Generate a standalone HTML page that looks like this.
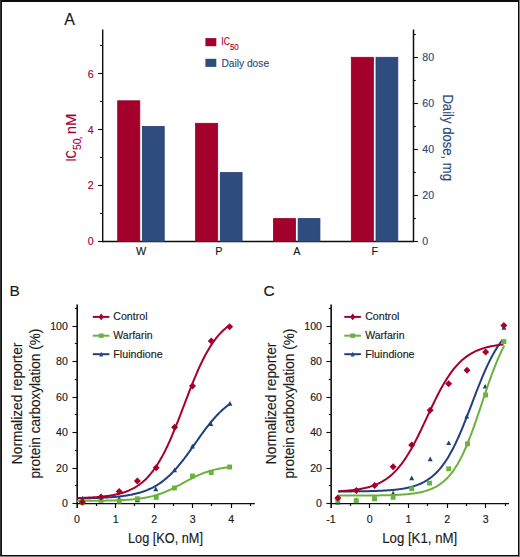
<!DOCTYPE html>
<html><head><meta charset="utf-8"><style>
html,body{margin:0;padding:0;background:#fff;}
body{width:520px;height:557px;overflow:hidden;}
svg{display:block;}
text{font-family:"Liberation Sans",sans-serif;stroke:currentColor;}
</style></head><body>
<svg width="520" height="557" viewBox="0 0 520 557">
<rect x="0" y="0" width="520" height="557" fill="#fff"/>
<rect x="519" y="0" width="1" height="557" fill="#808080"/>
<rect x="0" y="556" width="520" height="1" fill="#808080"/>
<rect x="0" y="0" width="519" height="2" fill="#0c0c0c"/>
<rect x="0" y="0" width="1" height="556" fill="#333"/>
<rect x="1" y="1" width="1" height="555" fill="#111"/>
<rect x="0" y="556" width="1" height="1" fill="#999"/>
<rect x="518" y="0" width="1" height="556" fill="#0c0c0c"/>
<rect x="0" y="555" width="519" height="1" fill="#0c0c0c"/>
<line x1="102.70" y1="29.50" x2="102.70" y2="242.15" stroke="#0d0d0d" stroke-width="1.4"/>
<line x1="413.50" y1="29.50" x2="413.50" y2="242.15" stroke="#0d0d0d" stroke-width="1.5"/>
<line x1="102.70" y1="241.50" x2="413.50" y2="241.50" stroke="#0d0d0d" stroke-width="1.3"/>
<line x1="98.10" y1="241.50" x2="102.70" y2="241.50" stroke="#0d0d0d" stroke-width="1.1"/>
<text x="93.70" y="245.30" font-size="10.6" fill="#a5002c" color="#a5002c" stroke-width="0.15" text-anchor="end">0</text>
<line x1="100.10" y1="213.50" x2="102.70" y2="213.50" stroke="#0d0d0d" stroke-width="1.1"/>
<line x1="98.10" y1="185.50" x2="102.70" y2="185.50" stroke="#0d0d0d" stroke-width="1.1"/>
<text x="93.70" y="189.44" font-size="10.6" fill="#a5002c" color="#a5002c" stroke-width="0.15" text-anchor="end">2</text>
<line x1="100.10" y1="157.50" x2="102.70" y2="157.50" stroke="#0d0d0d" stroke-width="1.1"/>
<line x1="98.10" y1="129.50" x2="102.70" y2="129.50" stroke="#0d0d0d" stroke-width="1.1"/>
<text x="93.70" y="133.58" font-size="10.6" fill="#a5002c" color="#a5002c" stroke-width="0.15" text-anchor="end">4</text>
<line x1="100.10" y1="101.50" x2="102.70" y2="101.50" stroke="#0d0d0d" stroke-width="1.1"/>
<line x1="98.10" y1="73.50" x2="102.70" y2="73.50" stroke="#0d0d0d" stroke-width="1.1"/>
<text x="93.70" y="77.72" font-size="10.6" fill="#a5002c" color="#a5002c" stroke-width="0.15" text-anchor="end">6</text>
<line x1="100.10" y1="45.50" x2="102.70" y2="45.50" stroke="#0d0d0d" stroke-width="1.1"/>
<line x1="413.50" y1="241.50" x2="417.90" y2="241.50" stroke="#0d0d0d" stroke-width="1.1"/>
<text x="422.30" y="245.30" font-size="10.6" fill="#2d4b7c" color="#2d4b7c" stroke-width="0.15">0</text>
<line x1="413.50" y1="218.50" x2="415.80" y2="218.50" stroke="#0d0d0d" stroke-width="1.1"/>
<line x1="413.50" y1="195.50" x2="417.90" y2="195.50" stroke="#0d0d0d" stroke-width="1.1"/>
<text x="422.30" y="199.30" font-size="10.6" fill="#2d4b7c" color="#2d4b7c" stroke-width="0.15">20</text>
<line x1="413.50" y1="172.50" x2="415.80" y2="172.50" stroke="#0d0d0d" stroke-width="1.1"/>
<line x1="413.50" y1="149.50" x2="417.90" y2="149.50" stroke="#0d0d0d" stroke-width="1.1"/>
<text x="422.30" y="153.30" font-size="10.6" fill="#2d4b7c" color="#2d4b7c" stroke-width="0.15">40</text>
<line x1="413.50" y1="126.50" x2="415.80" y2="126.50" stroke="#0d0d0d" stroke-width="1.1"/>
<line x1="413.50" y1="103.50" x2="417.90" y2="103.50" stroke="#0d0d0d" stroke-width="1.1"/>
<text x="422.30" y="107.30" font-size="10.6" fill="#2d4b7c" color="#2d4b7c" stroke-width="0.15">60</text>
<line x1="413.50" y1="80.50" x2="415.80" y2="80.50" stroke="#0d0d0d" stroke-width="1.1"/>
<line x1="413.50" y1="57.50" x2="417.90" y2="57.50" stroke="#0d0d0d" stroke-width="1.1"/>
<text x="422.30" y="61.30" font-size="10.6" fill="#2d4b7c" color="#2d4b7c" stroke-width="0.15">80</text>
<line x1="413.50" y1="34.50" x2="415.80" y2="34.50" stroke="#0d0d0d" stroke-width="1.1"/>
<rect x="117.70" y="100.80" width="22.1" height="140.70" fill="#a3002b" stroke="#980027" stroke-width="0.8"/>
<rect x="142.40" y="126.50" width="21.8" height="115.00" fill="#2e4c7d" stroke="#213e70" stroke-width="0.8"/>
<text x="141.10" y="255.40" font-size="10.8" fill="#1a1a1a" color="#1a1a1a" stroke-width="0.15" text-anchor="middle">W</text>
<rect x="195.57" y="123.30" width="22.1" height="118.20" fill="#a3002b" stroke="#980027" stroke-width="0.8"/>
<rect x="220.27" y="172.60" width="21.8" height="68.90" fill="#2e4c7d" stroke="#213e70" stroke-width="0.8"/>
<text x="218.97" y="255.40" font-size="10.8" fill="#1a1a1a" color="#1a1a1a" stroke-width="0.15" text-anchor="middle">P</text>
<rect x="273.44" y="218.60" width="22.1" height="22.90" fill="#a3002b" stroke="#980027" stroke-width="0.8"/>
<rect x="298.14" y="218.60" width="21.8" height="22.90" fill="#2e4c7d" stroke="#213e70" stroke-width="0.8"/>
<text x="296.84" y="255.40" font-size="10.8" fill="#1a1a1a" color="#1a1a1a" stroke-width="0.15" text-anchor="middle">A</text>
<rect x="351.31" y="57.30" width="22.1" height="184.20" fill="#a3002b" stroke="#980027" stroke-width="0.8"/>
<rect x="376.01" y="57.30" width="21.8" height="184.20" fill="#2e4c7d" stroke="#213e70" stroke-width="0.8"/>
<text x="374.71" y="255.40" font-size="10.8" fill="#1a1a1a" color="#1a1a1a" stroke-width="0.15" text-anchor="middle">F</text>
<rect x="205.4" y="38.1" width="10.9" height="8.1" fill="#a3002b"/>
<rect x="205.4" y="58.8" width="10.9" height="8.1" fill="#2e4c7d"/>
<text x="221.30" y="45.20" font-size="11.2" fill="#a5002c" color="#a5002c" stroke-width="0.15" textLength="8.6" lengthAdjust="spacingAndGlyphs">IC</text>
<text x="229.90" y="49.60" font-size="8.6" fill="#a5002c" color="#a5002c" stroke-width="0.15" textLength="8.9" lengthAdjust="spacingAndGlyphs">50</text>
<text x="221.40" y="66.50" font-size="11.2" fill="#2d4b7c" color="#2d4b7c" stroke-width="0.15" textLength="47.7" lengthAdjust="spacingAndGlyphs">Daily dose</text>
<text transform="translate(75.9,161.6) rotate(-90)" x="0" y="0" font-size="14.1" fill="#a5002c" color="#a5002c" stroke-width="0.15" textLength="11.4" lengthAdjust="spacingAndGlyphs">IC</text>
<text transform="translate(80.9,150.1) rotate(-90)" x="0" y="0" font-size="10.9" fill="#a5002c" color="#a5002c" stroke-width="0.15" textLength="11.6" lengthAdjust="spacingAndGlyphs">50</text>
<text transform="translate(80.9,139.6) rotate(-90)" x="0" y="0" font-size="10.9" fill="#a5002c" color="#a5002c" stroke-width="0.15">,</text>
<text transform="translate(75.9,134.2) rotate(-90)" x="0" y="0" font-size="14.1" fill="#a5002c" color="#a5002c" stroke-width="0.15" textLength="20.6" lengthAdjust="spacingAndGlyphs">nM</text>
<text transform="translate(443.1,94.4) rotate(90)" x="0" y="0" font-size="14.2" fill="#2d4b7c" color="#2d4b7c" stroke-width="0.15" textLength="86.6" lengthAdjust="spacingAndGlyphs">Daily dose, mg</text>
<text x="64.20" y="25.00" font-size="16" fill="#1a1a1a" color="#1a1a1a" stroke-width="0.15">A</text>
<line x1="77.20" y1="304.60" x2="77.20" y2="508.00" stroke="#0d0d0d" stroke-width="1.6"/>
<line x1="77.05" y1="503.60" x2="254.90" y2="503.60" stroke="#0d0d0d" stroke-width="1.2"/>
<line x1="72.45" y1="503.50" x2="77.05" y2="503.50" stroke="#0d0d0d" stroke-width="1.1"/>
<text x="67.90" y="507.40" font-size="10.6" fill="#1a1a1a" color="#1a1a1a" stroke-width="0.15" text-anchor="end">0</text>
<line x1="74.85" y1="485.50" x2="77.05" y2="485.50" stroke="#0d0d0d" stroke-width="1.1"/>
<line x1="72.45" y1="468.50" x2="77.05" y2="468.50" stroke="#0d0d0d" stroke-width="1.1"/>
<text x="67.90" y="471.90" font-size="10.6" fill="#1a1a1a" color="#1a1a1a" stroke-width="0.15" text-anchor="end">20</text>
<line x1="74.85" y1="450.50" x2="77.05" y2="450.50" stroke="#0d0d0d" stroke-width="1.1"/>
<line x1="72.45" y1="432.50" x2="77.05" y2="432.50" stroke="#0d0d0d" stroke-width="1.1"/>
<text x="67.90" y="436.40" font-size="10.6" fill="#1a1a1a" color="#1a1a1a" stroke-width="0.15" text-anchor="end">40</text>
<line x1="74.85" y1="414.50" x2="77.05" y2="414.50" stroke="#0d0d0d" stroke-width="1.1"/>
<line x1="72.45" y1="397.50" x2="77.05" y2="397.50" stroke="#0d0d0d" stroke-width="1.1"/>
<text x="67.90" y="400.90" font-size="10.6" fill="#1a1a1a" color="#1a1a1a" stroke-width="0.15" text-anchor="end">60</text>
<line x1="74.85" y1="379.50" x2="77.05" y2="379.50" stroke="#0d0d0d" stroke-width="1.1"/>
<line x1="72.45" y1="361.50" x2="77.05" y2="361.50" stroke="#0d0d0d" stroke-width="1.1"/>
<text x="67.90" y="365.40" font-size="10.6" fill="#1a1a1a" color="#1a1a1a" stroke-width="0.15" text-anchor="end">80</text>
<line x1="74.85" y1="343.50" x2="77.05" y2="343.50" stroke="#0d0d0d" stroke-width="1.1"/>
<line x1="72.45" y1="326.50" x2="77.05" y2="326.50" stroke="#0d0d0d" stroke-width="1.1"/>
<text x="67.90" y="329.90" font-size="10.6" fill="#1a1a1a" color="#1a1a1a" stroke-width="0.15" text-anchor="end">100</text>
<line x1="74.85" y1="308.50" x2="77.05" y2="308.50" stroke="#0d0d0d" stroke-width="1.1"/>
<line x1="96.50" y1="503.60" x2="96.50" y2="506.00" stroke="#0d0d0d" stroke-width="1.2"/>
<line x1="115.50" y1="503.60" x2="115.50" y2="508.00" stroke="#0d0d0d" stroke-width="1.2"/>
<line x1="134.50" y1="503.60" x2="134.50" y2="506.00" stroke="#0d0d0d" stroke-width="1.2"/>
<line x1="154.50" y1="503.60" x2="154.50" y2="508.00" stroke="#0d0d0d" stroke-width="1.2"/>
<line x1="173.50" y1="503.60" x2="173.50" y2="506.00" stroke="#0d0d0d" stroke-width="1.2"/>
<line x1="192.50" y1="503.60" x2="192.50" y2="508.00" stroke="#0d0d0d" stroke-width="1.2"/>
<line x1="211.50" y1="503.60" x2="211.50" y2="506.00" stroke="#0d0d0d" stroke-width="1.2"/>
<line x1="231.50" y1="503.60" x2="231.50" y2="508.00" stroke="#0d0d0d" stroke-width="1.2"/>
<line x1="250.50" y1="503.60" x2="250.50" y2="506.00" stroke="#0d0d0d" stroke-width="1.2"/>
<text x="77.05" y="522.90" font-size="10.6" fill="#1a1a1a" color="#1a1a1a" stroke-width="0.15" text-anchor="middle">0</text>
<text x="115.60" y="522.90" font-size="10.6" fill="#1a1a1a" color="#1a1a1a" stroke-width="0.15" text-anchor="middle">1</text>
<text x="154.15" y="522.90" font-size="10.6" fill="#1a1a1a" color="#1a1a1a" stroke-width="0.15" text-anchor="middle">2</text>
<text x="192.70" y="522.90" font-size="10.6" fill="#1a1a1a" color="#1a1a1a" stroke-width="0.15" text-anchor="middle">3</text>
<text x="231.25" y="522.90" font-size="10.6" fill="#1a1a1a" color="#1a1a1a" stroke-width="0.15" text-anchor="middle">4</text>
<path d="M77.05,498.38 L78.07,498.37 L79.09,498.35 L80.11,498.34 L81.14,498.32 L82.16,498.31 L83.18,498.29 L84.20,498.27 L85.22,498.25 L86.24,498.23 L87.26,498.21 L88.29,498.19 L89.31,498.16 L90.33,498.14 L91.35,498.11 L92.37,498.08 L93.39,498.05 L94.41,498.02 L95.44,497.99 L96.46,497.95 L97.48,497.92 L98.50,497.88 L99.52,497.84 L100.54,497.80 L101.56,497.75 L102.59,497.70 L103.61,497.66 L104.63,497.60 L105.65,497.55 L106.67,497.49 L107.69,497.43 L108.71,497.36 L109.74,497.30 L110.76,497.23 L111.78,497.15 L112.80,497.07 L113.82,496.99 L114.84,496.90 L115.86,496.81 L116.89,496.71 L117.91,496.61 L118.93,496.50 L119.95,496.39 L120.97,496.27 L121.99,496.15 L123.02,496.02 L124.04,495.88 L125.06,495.74 L126.08,495.58 L127.10,495.42 L128.12,495.26 L129.14,495.08 L130.17,494.89 L131.19,494.70 L132.21,494.49 L133.23,494.28 L134.25,494.05 L135.27,493.82 L136.29,493.57 L137.32,493.31 L138.34,493.04 L139.36,492.75 L140.38,492.45 L141.40,492.14 L142.42,491.81 L143.44,491.46 L144.47,491.10 L145.49,490.72 L146.51,490.33 L147.53,489.91 L148.55,489.48 L149.57,489.03 L150.59,488.56 L151.62,488.06 L152.64,487.55 L153.66,487.01 L154.68,486.46 L155.70,485.87 L156.72,485.27 L157.74,484.64 L158.77,483.98 L159.79,483.30 L160.81,482.59 L161.83,481.85 L162.85,481.09 L163.87,480.30 L164.89,479.48 L165.92,478.63 L166.94,477.76 L167.96,476.85 L168.98,475.91 L170.00,474.95 L171.02,473.95 L172.04,472.93 L173.07,471.88 L174.09,470.80 L175.11,469.69 L176.13,468.55 L177.15,467.38 L178.17,466.19 L179.19,464.97 L180.22,463.72 L181.24,462.45 L182.26,461.16 L183.28,459.84 L184.30,458.51 L185.32,457.15 L186.34,455.78 L187.37,454.39 L188.39,452.99 L189.41,451.57 L190.43,450.14 L191.45,448.71 L192.47,447.26 L193.49,445.81 L194.52,444.36 L195.54,442.91 L196.56,441.45 L197.58,440.00 L198.60,438.55 L199.62,437.11 L200.64,435.68 L201.67,434.26 L202.69,432.85 L203.71,431.46 L204.73,430.08 L205.75,428.72 L206.77,427.38 L207.80,426.05 L208.82,424.75 L209.84,423.48 L210.86,422.22 L211.88,420.99 L212.90,419.79 L213.92,418.61 L214.95,417.47 L215.97,416.35 L216.99,415.25 L218.01,414.19 L219.03,413.16 L220.05,412.15 L221.07,411.18 L222.10,410.23 L223.12,409.31 L224.14,408.43 L225.16,407.57 L226.18,406.74 L227.20,405.94 L228.22,405.17 L229.25,404.42" fill="none" stroke="#1f3f7f" stroke-width="2" stroke-linejoin="round"/>
<path d="M77.05,498.01 L78.07,497.98 L79.09,497.95 L80.11,497.92 L81.14,497.89 L82.16,497.86 L83.18,497.82 L84.20,497.79 L85.22,497.75 L86.24,497.70 L87.26,497.66 L88.29,497.61 L89.31,497.56 L90.33,497.51 L91.35,497.46 L92.37,497.40 L93.39,497.34 L94.41,497.27 L95.44,497.20 L96.46,497.13 L97.48,497.05 L98.50,496.97 L99.52,496.88 L100.54,496.79 L101.56,496.69 L102.59,496.59 L103.61,496.48 L104.63,496.36 L105.65,496.24 L106.67,496.11 L107.69,495.97 L108.71,495.83 L109.74,495.67 L110.76,495.51 L111.78,495.34 L112.80,495.16 L113.82,494.96 L114.84,494.76 L115.86,494.55 L116.89,494.32 L117.91,494.08 L118.93,493.83 L119.95,493.56 L120.97,493.28 L121.99,492.98 L123.02,492.67 L124.04,492.34 L125.06,491.99 L126.08,491.62 L127.10,491.23 L128.12,490.82 L129.14,490.39 L130.17,489.93 L131.19,489.45 L132.21,488.94 L133.23,488.41 L134.25,487.85 L135.27,487.26 L136.29,486.63 L137.32,485.98 L138.34,485.29 L139.36,484.57 L140.38,483.81 L141.40,483.02 L142.42,482.18 L143.44,481.30 L144.47,480.39 L145.49,479.42 L146.51,478.42 L147.53,477.36 L148.55,476.26 L149.57,475.11 L150.59,473.91 L151.62,472.66 L152.64,471.35 L153.66,469.99 L154.68,468.57 L155.70,467.10 L156.72,465.56 L157.74,463.98 L158.77,462.33 L159.79,460.62 L160.81,458.85 L161.83,457.03 L162.85,455.14 L163.87,453.20 L164.89,451.19 L165.92,449.13 L166.94,447.01 L167.96,444.84 L168.98,442.61 L170.00,440.33 L171.02,438.01 L172.04,435.63 L173.07,433.21 L174.09,430.74 L175.11,428.24 L176.13,425.70 L177.15,423.13 L178.17,420.53 L179.19,417.90 L180.22,415.26 L181.24,412.60 L182.26,409.92 L183.28,407.24 L184.30,404.55 L185.32,401.87 L186.34,399.19 L187.37,396.52 L188.39,393.86 L189.41,391.23 L190.43,388.61 L191.45,386.03 L192.47,383.47 L193.49,380.95 L194.52,378.46 L195.54,376.02 L196.56,373.61 L197.58,371.26 L198.60,368.95 L199.62,366.70 L200.64,364.50 L201.67,362.35 L202.69,360.26 L203.71,358.22 L204.73,356.25 L205.75,354.33 L206.77,352.47 L207.80,350.67 L208.82,348.93 L209.84,347.25 L210.86,345.63 L211.88,344.07 L212.90,342.57 L213.92,341.12 L214.95,339.73 L215.97,338.39 L216.99,337.11 L218.01,335.88 L219.03,334.70 L220.05,333.57 L221.07,332.49 L222.10,331.46 L223.12,330.48 L224.14,329.53 L225.16,328.64 L226.18,327.78 L227.20,326.96 L228.22,326.18 L229.25,325.44" fill="none" stroke="#a5002c" stroke-width="2" stroke-linejoin="round"/>
<path d="M82.40,496.08 L84.90,500.78 L79.90,500.78Z" fill="#213f7a"/>
<path d="M101.00,495.68 L103.50,500.38 L98.50,500.38Z" fill="#213f7a"/>
<path d="M119.20,495.98 L121.70,500.68 L116.70,500.68Z" fill="#213f7a"/>
<path d="M137.40,497.48 L139.90,502.18 L134.90,502.18Z" fill="#213f7a"/>
<path d="M155.80,486.58 L158.30,491.28 L153.30,491.28Z" fill="#213f7a"/>
<path d="M174.60,467.58 L177.10,472.28 L172.10,472.28Z" fill="#213f7a"/>
<path d="M192.40,443.68 L194.90,448.38 L189.90,448.38Z" fill="#213f7a"/>
<path d="M210.80,421.18 L213.30,425.88 L208.30,425.88Z" fill="#213f7a"/>
<path d="M229.90,400.98 L232.40,405.68 L227.40,405.68Z" fill="#213f7a"/>
<path d="M77.05,500.88 L78.07,500.88 L79.09,500.88 L80.11,500.87 L81.14,500.87 L82.16,500.86 L83.18,500.86 L84.20,500.85 L85.22,500.85 L86.24,500.84 L87.26,500.84 L88.29,500.83 L89.31,500.82 L90.33,500.82 L91.35,500.81 L92.37,500.80 L93.39,500.79 L94.41,500.78 L95.44,500.77 L96.46,500.76 L97.48,500.75 L98.50,500.74 L99.52,500.72 L100.54,500.71 L101.56,500.70 L102.59,500.68 L103.61,500.66 L104.63,500.65 L105.65,500.63 L106.67,500.61 L107.69,500.59 L108.71,500.56 L109.74,500.54 L110.76,500.51 L111.78,500.49 L112.80,500.46 L113.82,500.43 L114.84,500.40 L115.86,500.36 L116.89,500.32 L117.91,500.29 L118.93,500.24 L119.95,500.20 L120.97,500.15 L121.99,500.10 L123.02,500.05 L124.04,500.00 L125.06,499.94 L126.08,499.87 L127.10,499.81 L128.12,499.74 L129.14,499.66 L130.17,499.58 L131.19,499.50 L132.21,499.41 L133.23,499.32 L134.25,499.22 L135.27,499.11 L136.29,499.00 L137.32,498.88 L138.34,498.76 L139.36,498.63 L140.38,498.49 L141.40,498.34 L142.42,498.18 L143.44,498.02 L144.47,497.85 L145.49,497.67 L146.51,497.48 L147.53,497.28 L148.55,497.07 L149.57,496.84 L150.59,496.61 L151.62,496.37 L152.64,496.11 L153.66,495.85 L154.68,495.57 L155.70,495.27 L156.72,494.97 L157.74,494.65 L158.77,494.32 L159.79,493.98 L160.81,493.62 L161.83,493.25 L162.85,492.86 L163.87,492.47 L164.89,492.06 L165.92,491.63 L166.94,491.19 L167.96,490.74 L168.98,490.28 L170.00,489.81 L171.02,489.32 L172.04,488.83 L173.07,488.32 L174.09,487.80 L175.11,487.28 L176.13,486.75 L177.15,486.21 L178.17,485.67 L179.19,485.12 L180.22,484.56 L181.24,484.01 L182.26,483.45 L183.28,482.89 L184.30,482.33 L185.32,481.77 L186.34,481.22 L187.37,480.67 L188.39,480.12 L189.41,479.58 L190.43,479.04 L191.45,478.52 L192.47,478.00 L193.49,477.49 L194.52,476.99 L195.54,476.50 L196.56,476.02 L197.58,475.56 L198.60,475.10 L199.62,474.66 L200.64,474.23 L201.67,473.82 L202.69,473.41 L203.71,473.02 L204.73,472.65 L205.75,472.29 L206.77,471.94 L207.80,471.60 L208.82,471.28 L209.84,470.97 L210.86,470.67 L211.88,470.39 L212.90,470.12 L213.92,469.86 L214.95,469.61 L215.97,469.38 L216.99,469.15 L218.01,468.94 L219.03,468.73 L220.05,468.54 L221.07,468.35 L222.10,468.18 L223.12,468.01 L224.14,467.85 L225.16,467.70 L226.18,467.56 L227.20,467.43 L228.22,467.30 L229.25,467.18" fill="none" stroke="#6ab23e" stroke-width="2" stroke-linejoin="round"/>
<rect x="79.95" y="500.15" width="4.90" height="4.90" fill="#6ab23e"/>
<rect x="98.55" y="497.95" width="4.90" height="4.90" fill="#6ab23e"/>
<rect x="116.85" y="498.65" width="4.90" height="4.90" fill="#6ab23e"/>
<rect x="134.95" y="496.35" width="4.90" height="4.90" fill="#6ab23e"/>
<rect x="153.75" y="494.95" width="4.90" height="4.90" fill="#6ab23e"/>
<rect x="171.95" y="485.55" width="4.90" height="4.90" fill="#6ab23e"/>
<rect x="190.05" y="473.55" width="4.90" height="4.90" fill="#6ab23e"/>
<rect x="208.75" y="470.15" width="4.90" height="4.90" fill="#6ab23e"/>
<rect x="227.15" y="464.55" width="4.90" height="4.90" fill="#6ab23e"/>
<path d="M82.40,498.70 L85.90,502.20 L82.40,505.70 L78.90,502.20Z" fill="#a5002c"/>
<path d="M101.00,493.60 L104.50,497.10 L101.00,500.60 L97.50,497.10Z" fill="#a5002c"/>
<path d="M119.20,488.10 L122.70,491.60 L119.20,495.10 L115.70,491.60Z" fill="#a5002c"/>
<path d="M137.40,477.40 L140.90,480.90 L137.40,484.40 L133.90,480.90Z" fill="#a5002c"/>
<path d="M156.20,464.30 L159.70,467.80 L156.20,471.30 L152.70,467.80Z" fill="#a5002c"/>
<path d="M174.60,423.70 L178.10,427.20 L174.60,430.70 L171.10,427.20Z" fill="#a5002c"/>
<path d="M192.50,382.60 L196.00,386.10 L192.50,389.60 L189.00,386.10Z" fill="#a5002c"/>
<path d="M211.30,337.50 L214.80,341.00 L211.30,344.50 L207.80,341.00Z" fill="#a5002c"/>
<path d="M229.60,323.30 L233.10,326.80 L229.60,330.30 L226.10,326.80Z" fill="#a5002c"/>
<line x1="92.80" y1="316.90" x2="109.40" y2="316.90" stroke="#a5002c" stroke-width="2"/>
<path d="M101.20,313.60 L103.90,316.90 L101.20,320.20 L98.50,316.90Z" fill="#a5002c"/>
<text x="113.30" y="320.40" font-size="10.7" fill="#1a1a1a" color="#1a1a1a" stroke-width="0.15" textLength="34.2" lengthAdjust="spacingAndGlyphs">Control</text>
<line x1="92.80" y1="335.70" x2="109.40" y2="335.70" stroke="#6ab23e" stroke-width="2"/>
<rect x="98.80" y="333.50" width="4.8" height="4.4" fill="#6ab23e"/>
<text x="113.30" y="339.20" font-size="10.7" fill="#1a1a1a" color="#1a1a1a" stroke-width="0.15" textLength="39.3" lengthAdjust="spacingAndGlyphs">Warfarin</text>
<line x1="92.80" y1="354.20" x2="109.40" y2="354.20" stroke="#1f3f7f" stroke-width="2"/>
<path d="M101.20,351.40 L103.20,356.60 L99.20,356.60Z" fill="#2d4b7c"/>
<text x="113.30" y="357.70" font-size="10.7" fill="#1a1a1a" color="#1a1a1a" stroke-width="0.15" textLength="49.4" lengthAdjust="spacingAndGlyphs">Fluindione</text>
<text x="9.60" y="296.00" font-size="15.4" fill="#1a1a1a" color="#1a1a1a" stroke-width="0.15">B</text>
<text x="128.00" y="542.50" font-size="14" fill="#1a1a1a" color="#1a1a1a" stroke-width="0.15" textLength="75.0" lengthAdjust="spacingAndGlyphs">Log [KO, nM]</text>
<text transform="translate(22.4,464.2) rotate(-90)" x="0" y="0" font-size="13.8" fill="#1a1a1a" color="#1a1a1a" stroke-width="0.15" textLength="121.6" lengthAdjust="spacingAndGlyphs">Normalized reporter</text>
<text transform="translate(40.0,478.5) rotate(-90)" x="0" y="0" font-size="13.8" fill="#1a1a1a" color="#1a1a1a" stroke-width="0.15" textLength="149.7" lengthAdjust="spacingAndGlyphs">protein carboxylation (%)</text>
<line x1="331.15" y1="304.60" x2="331.15" y2="508.00" stroke="#0d0d0d" stroke-width="1.6"/>
<line x1="331.00" y1="503.60" x2="509.00" y2="503.60" stroke="#0d0d0d" stroke-width="1.2"/>
<line x1="326.40" y1="503.50" x2="331.00" y2="503.50" stroke="#0d0d0d" stroke-width="1.1"/>
<text x="322.00" y="507.40" font-size="10.6" fill="#1a1a1a" color="#1a1a1a" stroke-width="0.15" text-anchor="end">0</text>
<line x1="328.80" y1="485.50" x2="331.00" y2="485.50" stroke="#0d0d0d" stroke-width="1.1"/>
<line x1="326.40" y1="468.50" x2="331.00" y2="468.50" stroke="#0d0d0d" stroke-width="1.1"/>
<text x="322.00" y="471.90" font-size="10.6" fill="#1a1a1a" color="#1a1a1a" stroke-width="0.15" text-anchor="end">20</text>
<line x1="328.80" y1="450.50" x2="331.00" y2="450.50" stroke="#0d0d0d" stroke-width="1.1"/>
<line x1="326.40" y1="432.50" x2="331.00" y2="432.50" stroke="#0d0d0d" stroke-width="1.1"/>
<text x="322.00" y="436.40" font-size="10.6" fill="#1a1a1a" color="#1a1a1a" stroke-width="0.15" text-anchor="end">40</text>
<line x1="328.80" y1="414.50" x2="331.00" y2="414.50" stroke="#0d0d0d" stroke-width="1.1"/>
<line x1="326.40" y1="397.50" x2="331.00" y2="397.50" stroke="#0d0d0d" stroke-width="1.1"/>
<text x="322.00" y="400.90" font-size="10.6" fill="#1a1a1a" color="#1a1a1a" stroke-width="0.15" text-anchor="end">60</text>
<line x1="328.80" y1="379.50" x2="331.00" y2="379.50" stroke="#0d0d0d" stroke-width="1.1"/>
<line x1="326.40" y1="361.50" x2="331.00" y2="361.50" stroke="#0d0d0d" stroke-width="1.1"/>
<text x="322.00" y="365.40" font-size="10.6" fill="#1a1a1a" color="#1a1a1a" stroke-width="0.15" text-anchor="end">80</text>
<line x1="328.80" y1="343.50" x2="331.00" y2="343.50" stroke="#0d0d0d" stroke-width="1.1"/>
<line x1="326.40" y1="326.50" x2="331.00" y2="326.50" stroke="#0d0d0d" stroke-width="1.1"/>
<text x="322.00" y="329.90" font-size="10.6" fill="#1a1a1a" color="#1a1a1a" stroke-width="0.15" text-anchor="end">100</text>
<line x1="328.80" y1="308.50" x2="331.00" y2="308.50" stroke="#0d0d0d" stroke-width="1.1"/>
<line x1="350.50" y1="503.60" x2="350.50" y2="506.00" stroke="#0d0d0d" stroke-width="1.2"/>
<line x1="369.50" y1="503.60" x2="369.50" y2="508.00" stroke="#0d0d0d" stroke-width="1.2"/>
<line x1="389.50" y1="503.60" x2="389.50" y2="506.00" stroke="#0d0d0d" stroke-width="1.2"/>
<line x1="408.50" y1="503.60" x2="408.50" y2="508.00" stroke="#0d0d0d" stroke-width="1.2"/>
<line x1="427.50" y1="503.60" x2="427.50" y2="506.00" stroke="#0d0d0d" stroke-width="1.2"/>
<line x1="447.50" y1="503.60" x2="447.50" y2="508.00" stroke="#0d0d0d" stroke-width="1.2"/>
<line x1="466.50" y1="503.60" x2="466.50" y2="506.00" stroke="#0d0d0d" stroke-width="1.2"/>
<line x1="485.50" y1="503.60" x2="485.50" y2="508.00" stroke="#0d0d0d" stroke-width="1.2"/>
<line x1="505.50" y1="503.60" x2="505.50" y2="506.00" stroke="#0d0d0d" stroke-width="1.2"/>
<text x="331.00" y="522.90" font-size="10.6" fill="#1a1a1a" color="#1a1a1a" stroke-width="0.15" text-anchor="middle">-1</text>
<text x="369.70" y="522.90" font-size="10.6" fill="#1a1a1a" color="#1a1a1a" stroke-width="0.15" text-anchor="middle">0</text>
<text x="408.40" y="522.90" font-size="10.6" fill="#1a1a1a" color="#1a1a1a" stroke-width="0.15" text-anchor="middle">1</text>
<text x="447.10" y="522.90" font-size="10.6" fill="#1a1a1a" color="#1a1a1a" stroke-width="0.15" text-anchor="middle">2</text>
<text x="485.80" y="522.90" font-size="10.6" fill="#1a1a1a" color="#1a1a1a" stroke-width="0.15" text-anchor="middle">3</text>
<path d="M338.20,491.45 L339.30,491.44 L340.40,491.44 L341.51,491.44 L342.61,491.43 L343.71,491.43 L344.82,491.42 L345.92,491.41 L347.02,491.41 L348.12,491.40 L349.23,491.39 L350.33,491.38 L351.43,491.38 L352.53,491.37 L353.64,491.36 L354.74,491.35 L355.84,491.34 L356.95,491.32 L358.05,491.31 L359.15,491.30 L360.25,491.28 L361.36,491.27 L362.46,491.25 L363.56,491.23 L364.67,491.22 L365.77,491.20 L366.87,491.18 L367.97,491.15 L369.08,491.13 L370.18,491.10 L371.28,491.07 L372.39,491.05 L373.49,491.01 L374.59,490.98 L375.69,490.94 L376.80,490.91 L377.90,490.87 L379.00,490.82 L380.11,490.77 L381.21,490.73 L382.31,490.67 L383.41,490.62 L384.52,490.56 L385.62,490.49 L386.72,490.42 L387.83,490.35 L388.93,490.27 L390.03,490.19 L391.13,490.10 L392.24,490.00 L393.34,489.90 L394.44,489.79 L395.54,489.68 L396.65,489.55 L397.75,489.42 L398.85,489.28 L399.96,489.13 L401.06,488.97 L402.16,488.81 L403.26,488.62 L404.37,488.43 L405.47,488.23 L406.57,488.01 L407.68,487.78 L408.78,487.53 L409.88,487.26 L410.98,486.98 L412.09,486.68 L413.19,486.36 L414.29,486.03 L415.40,485.67 L416.50,485.28 L417.60,484.88 L418.70,484.44 L419.81,483.98 L420.91,483.50 L422.01,482.98 L423.12,482.43 L424.22,481.85 L425.32,481.23 L426.42,480.57 L427.53,479.88 L428.63,479.14 L429.73,478.37 L430.84,477.54 L431.94,476.67 L433.04,475.76 L434.14,474.79 L435.25,473.77 L436.35,472.69 L437.45,471.56 L438.55,470.36 L439.66,469.11 L440.76,467.79 L441.86,466.41 L442.97,464.96 L444.07,463.45 L445.17,461.86 L446.27,460.20 L447.38,458.48 L448.48,456.68 L449.58,454.80 L450.69,452.85 L451.79,450.83 L452.89,448.74 L453.99,446.58 L455.10,444.34 L456.20,442.04 L457.30,439.66 L458.41,437.23 L459.51,434.73 L460.61,432.17 L461.71,429.55 L462.82,426.89 L463.92,424.17 L465.02,421.42 L466.13,418.62 L467.23,415.80 L468.33,412.95 L469.43,410.08 L470.54,407.19 L471.64,404.30 L472.74,401.40 L473.85,398.51 L474.95,395.62 L476.05,392.76 L477.15,389.92 L478.26,387.10 L479.36,384.32 L480.46,381.58 L481.56,378.88 L482.67,376.23 L483.77,373.64 L484.87,371.10 L485.98,368.62 L487.08,366.20 L488.18,363.85 L489.28,361.57 L490.39,359.36 L491.49,357.22 L492.59,355.15 L493.70,353.16 L494.80,351.24 L495.90,349.39 L497.00,347.61 L498.11,345.91 L499.21,344.28 L500.31,342.72 L501.42,341.23 L502.52,339.80" fill="none" stroke="#1f3f7f" stroke-width="2" stroke-linejoin="round"/>
<path d="M338.20,491.28 L339.31,491.22 L340.42,491.16 L341.53,491.09 L342.64,491.02 L343.74,490.94 L344.85,490.86 L345.96,490.77 L347.07,490.68 L348.18,490.58 L349.29,490.48 L350.40,490.36 L351.51,490.25 L352.62,490.12 L353.73,489.99 L354.84,489.84 L355.95,489.69 L357.06,489.53 L358.17,489.36 L359.28,489.18 L360.38,488.98 L361.49,488.78 L362.60,488.56 L363.71,488.32 L364.82,488.08 L365.93,487.81 L367.04,487.53 L368.15,487.24 L369.26,486.92 L370.37,486.59 L371.48,486.24 L372.59,485.86 L373.70,485.46 L374.81,485.04 L375.91,484.60 L377.02,484.12 L378.13,483.62 L379.24,483.09 L380.35,482.53 L381.46,481.94 L382.57,481.32 L383.68,480.66 L384.79,479.96 L385.90,479.22 L387.01,478.45 L388.12,477.63 L389.23,476.77 L390.34,475.87 L391.45,474.92 L392.55,473.92 L393.66,472.88 L394.77,471.78 L395.88,470.63 L396.99,469.43 L398.10,468.17 L399.21,466.86 L400.32,465.49 L401.43,464.07 L402.54,462.58 L403.65,461.04 L404.76,459.44 L405.87,457.78 L406.98,456.06 L408.08,454.29 L409.19,452.46 L410.30,450.57 L411.41,448.63 L412.52,446.64 L413.63,444.60 L414.74,442.51 L415.85,440.37 L416.96,438.19 L418.07,435.98 L419.18,433.72 L420.29,431.44 L421.40,429.13 L422.51,426.80 L423.62,424.44 L424.72,422.08 L425.83,419.70 L426.94,417.32 L428.05,414.94 L429.16,412.56 L430.27,410.20 L431.38,407.85 L432.49,405.51 L433.60,403.21 L434.71,400.93 L435.82,398.68 L436.93,396.46 L438.04,394.29 L439.15,392.16 L440.26,390.07 L441.36,388.03 L442.47,386.05 L443.58,384.11 L444.69,382.23 L445.80,380.40 L446.91,378.64 L448.02,376.92 L449.13,375.27 L450.24,373.68 L451.35,372.14 L452.46,370.66 L453.57,369.24 L454.68,367.88 L455.79,366.57 L456.89,365.32 L458.00,364.12 L459.11,362.98 L460.22,361.89 L461.33,360.84 L462.44,359.85 L463.55,358.91 L464.66,358.01 L465.77,357.15 L466.88,356.34 L467.99,355.57 L469.10,354.84 L470.21,354.15 L471.32,353.49 L472.43,352.87 L473.53,352.28 L474.64,351.72 L475.75,351.19 L476.86,350.70 L477.97,350.23 L479.08,349.78 L480.19,349.36 L481.30,348.97 L482.41,348.59 L483.52,348.24 L484.63,347.91 L485.74,347.60 L486.85,347.30 L487.96,347.03 L489.06,346.77 L490.17,346.52 L491.28,346.29 L492.39,346.07 L493.50,345.86 L494.61,345.67 L495.72,345.49 L496.83,345.32 L497.94,345.16 L499.05,345.01 L500.16,344.87 L501.27,344.73 L502.38,344.61 L503.49,344.49" fill="none" stroke="#a5002c" stroke-width="2" stroke-linejoin="round"/>
<path d="M337.80,499.78 L340.30,504.48 L335.30,504.48Z" fill="#213f7a"/>
<path d="M356.20,497.38 L358.70,502.08 L353.70,502.08Z" fill="#213f7a"/>
<path d="M374.50,495.48 L377.00,500.18 L372.00,500.18Z" fill="#213f7a"/>
<path d="M393.10,490.78 L395.60,495.48 L390.60,495.48Z" fill="#213f7a"/>
<path d="M411.70,475.48 L414.20,480.18 L409.20,480.18Z" fill="#213f7a"/>
<path d="M430.20,456.58 L432.70,461.28 L427.70,461.28Z" fill="#213f7a"/>
<path d="M448.70,440.38 L451.20,445.08 L446.20,445.08Z" fill="#213f7a"/>
<path d="M466.80,413.88 L469.30,418.58 L464.30,418.58Z" fill="#213f7a"/>
<path d="M485.20,383.88 L487.70,388.58 L482.70,388.58Z" fill="#213f7a"/>
<path d="M503.90,324.98 L506.40,329.68 L501.40,329.68Z" fill="#213f7a"/>
<path d="M338.20,495.60 L339.31,495.60 L340.43,495.59 L341.54,495.59 L342.66,495.59 L343.77,495.59 L344.89,495.59 L346.00,495.59 L347.12,495.58 L348.23,495.58 L349.35,495.58 L350.46,495.58 L351.58,495.57 L352.69,495.57 L353.80,495.57 L354.92,495.57 L356.03,495.56 L357.15,495.56 L358.26,495.55 L359.38,495.55 L360.49,495.54 L361.61,495.54 L362.72,495.53 L363.84,495.53 L364.95,495.52 L366.07,495.51 L367.18,495.51 L368.30,495.50 L369.41,495.49 L370.53,495.48 L371.64,495.47 L372.76,495.46 L373.87,495.45 L374.99,495.44 L376.10,495.42 L377.22,495.41 L378.33,495.39 L379.44,495.38 L380.56,495.36 L381.67,495.34 L382.79,495.32 L383.90,495.30 L385.02,495.27 L386.13,495.25 L387.25,495.22 L388.36,495.19 L389.48,495.16 L390.59,495.12 L391.71,495.09 L392.82,495.05 L393.94,495.00 L395.05,494.96 L396.17,494.91 L397.28,494.86 L398.40,494.80 L399.51,494.74 L400.63,494.67 L401.74,494.60 L402.85,494.53 L403.97,494.45 L405.08,494.36 L406.20,494.27 L407.31,494.17 L408.43,494.06 L409.54,493.95 L410.66,493.82 L411.77,493.69 L412.89,493.54 L414.00,493.39 L415.12,493.23 L416.23,493.05 L417.35,492.86 L418.46,492.66 L419.58,492.44 L420.69,492.21 L421.81,491.95 L422.92,491.69 L424.04,491.40 L425.15,491.09 L426.26,490.76 L427.38,490.40 L428.49,490.03 L429.61,489.62 L430.72,489.19 L431.84,488.72 L432.95,488.22 L434.07,487.69 L435.18,487.13 L436.30,486.52 L437.41,485.87 L438.53,485.18 L439.64,484.45 L440.76,483.66 L441.87,482.83 L442.99,481.94 L444.10,481.00 L445.22,479.99 L446.33,478.93 L447.45,477.79 L448.56,476.59 L449.67,475.32 L450.79,473.98 L451.90,472.56 L453.02,471.06 L454.13,469.47 L455.25,467.81 L456.36,466.05 L457.48,464.21 L458.59,462.28 L459.71,460.25 L460.82,458.14 L461.94,455.93 L463.05,453.62 L464.17,451.23 L465.28,448.74 L466.40,446.16 L467.51,443.49 L468.63,440.74 L469.74,437.91 L470.86,435.00 L471.97,432.01 L473.09,428.95 L474.20,425.84 L475.31,422.66 L476.43,419.44 L477.54,416.18 L478.66,412.88 L479.77,409.56 L480.89,406.21 L482.00,402.87 L483.12,399.52 L484.23,396.18 L485.35,392.86 L486.46,389.56 L487.58,386.30 L488.69,383.08 L489.81,379.92 L490.92,376.80 L492.04,373.76 L493.15,370.78 L494.27,367.87 L495.38,365.04 L496.50,362.30 L497.61,359.64 L498.72,357.07 L499.84,354.59 L500.95,352.21 L502.07,349.91 L503.18,347.71 L504.30,345.60" fill="none" stroke="#6ab23e" stroke-width="2" stroke-linejoin="round"/>
<rect x="335.35" y="497.95" width="4.90" height="4.90" fill="#6ab23e"/>
<rect x="353.75" y="498.25" width="4.90" height="4.90" fill="#6ab23e"/>
<rect x="372.05" y="496.35" width="4.90" height="4.90" fill="#6ab23e"/>
<rect x="390.65" y="494.85" width="4.90" height="4.90" fill="#6ab23e"/>
<rect x="409.25" y="486.35" width="4.90" height="4.90" fill="#6ab23e"/>
<rect x="427.05" y="480.65" width="4.90" height="4.90" fill="#6ab23e"/>
<rect x="446.25" y="466.35" width="4.90" height="4.90" fill="#6ab23e"/>
<rect x="465.05" y="441.45" width="4.90" height="4.90" fill="#6ab23e"/>
<rect x="483.15" y="392.55" width="4.90" height="4.90" fill="#6ab23e"/>
<rect x="501.45" y="339.15" width="4.90" height="4.90" fill="#6ab23e"/>
<path d="M337.80,494.60 L341.30,498.10 L337.80,501.60 L334.30,498.10Z" fill="#a5002c"/>
<path d="M356.30,487.10 L359.80,490.60 L356.30,494.10 L352.80,490.60Z" fill="#a5002c"/>
<path d="M374.60,481.90 L378.10,485.40 L374.60,488.90 L371.10,485.40Z" fill="#a5002c"/>
<path d="M393.10,463.20 L396.60,466.70 L393.10,470.20 L389.60,466.70Z" fill="#a5002c"/>
<path d="M411.70,441.50 L415.20,445.00 L411.70,448.50 L408.20,445.00Z" fill="#a5002c"/>
<path d="M430.20,406.70 L433.70,410.20 L430.20,413.70 L426.70,410.20Z" fill="#a5002c"/>
<path d="M448.60,380.20 L452.10,383.70 L448.60,387.20 L445.10,383.70Z" fill="#a5002c"/>
<path d="M467.00,366.80 L470.50,370.30 L467.00,373.80 L463.50,370.30Z" fill="#a5002c"/>
<path d="M485.60,348.40 L489.10,351.90 L485.60,355.40 L482.10,351.90Z" fill="#a5002c"/>
<path d="M503.90,321.90 L507.40,325.40 L503.90,328.90 L500.40,325.40Z" fill="#a5002c"/>
<line x1="344.30" y1="316.90" x2="360.90" y2="316.90" stroke="#a5002c" stroke-width="2"/>
<path d="M352.70,313.60 L355.40,316.90 L352.70,320.20 L350.00,316.90Z" fill="#a5002c"/>
<text x="365.20" y="320.40" font-size="10.7" fill="#1a1a1a" color="#1a1a1a" stroke-width="0.15" textLength="34.2" lengthAdjust="spacingAndGlyphs">Control</text>
<line x1="344.30" y1="335.70" x2="360.90" y2="335.70" stroke="#6ab23e" stroke-width="2"/>
<rect x="350.30" y="333.50" width="4.8" height="4.4" fill="#6ab23e"/>
<text x="365.20" y="339.20" font-size="10.7" fill="#1a1a1a" color="#1a1a1a" stroke-width="0.15" textLength="39.3" lengthAdjust="spacingAndGlyphs">Warfarin</text>
<line x1="344.30" y1="354.20" x2="360.90" y2="354.20" stroke="#1f3f7f" stroke-width="2"/>
<path d="M352.70,351.40 L354.70,356.60 L350.70,356.60Z" fill="#2d4b7c"/>
<text x="365.20" y="357.70" font-size="10.7" fill="#1a1a1a" color="#1a1a1a" stroke-width="0.15" textLength="49.4" lengthAdjust="spacingAndGlyphs">Fluindione</text>
<text x="263.40" y="296.00" font-size="15.4" fill="#1a1a1a" color="#1a1a1a" stroke-width="0.15">C</text>
<text x="382.20" y="542.50" font-size="14" fill="#1a1a1a" color="#1a1a1a" stroke-width="0.15" textLength="75.0" lengthAdjust="spacingAndGlyphs">Log [K1, nM]</text>
<text transform="translate(276.1,464.2) rotate(-90)" x="0" y="0" font-size="13.8" fill="#1a1a1a" color="#1a1a1a" stroke-width="0.15" textLength="121.6" lengthAdjust="spacingAndGlyphs">Normalized reporter</text>
<text transform="translate(293.9,478.5) rotate(-90)" x="0" y="0" font-size="13.8" fill="#1a1a1a" color="#1a1a1a" stroke-width="0.15" textLength="149.7" lengthAdjust="spacingAndGlyphs">protein carboxylation (%)</text>
</svg>
</body></html>
